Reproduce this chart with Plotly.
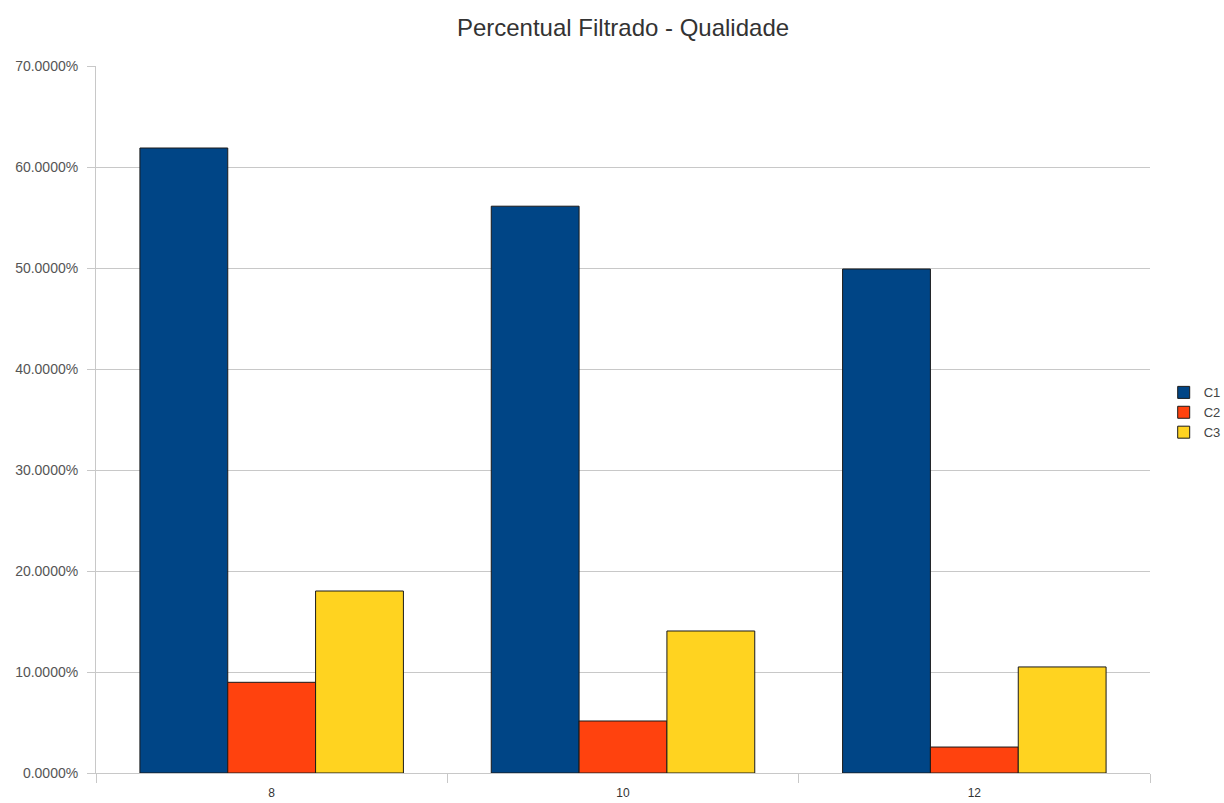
import plotly.graph_objects as go

categories = ["8", "10", "12"]
c1_values = [0.6188, 0.5612, 0.4990]
c2_values = [0.0898, 0.0515, 0.0257]
c3_values = [0.1802, 0.1406, 0.1050]
series_names = ["C1", "C2", "C3"]
series_colors = ["#004586", "#ff420e", "#ffd320"]

fig = go.Figure()
for name, vals, color in zip(series_names, [c1_values, c2_values, c3_values], series_colors):
    fig.add_trace(go.Bar(
        x=categories, y=vals, name=name,
        marker=dict(color=color, line=dict(color="#1a1a1a", width=1)),
    ))

grid = "#c8c8c8"
fig.update_layout(
    width=1224, height=803,
    margin=dict(l=96, r=74, t=66, b=30, autoexpand=False),
    paper_bgcolor="white", plot_bgcolor="white",
    barmode="group", bargap=0.25, bargroupgap=0,
    font=dict(family="Liberation Sans, Arial, sans-serif", size=12, color="#444444"),
    title=dict(text="Percentual Filtrado - Qualidade", x=0.5, xref="paper",
               y=0.966, yanchor="middle",
               font=dict(size=24, color="#333333")),
    legend=dict(x=1.013, y=0.51, xanchor="left", yanchor="middle",
                font=dict(size=13, color="#444444"), tracegroupgap=0,
                itemwidth=30),
    xaxis=dict(
        type="category", showgrid=False, showline=True, linecolor=grid,
        ticks="outside", tickson="boundaries", ticklen=9, tickcolor=grid,
        ticklabelstandoff=9,
        tickfont=dict(size=12, color="#333333"),
    ),
    yaxis=dict(
        range=[0, 0.70], dtick=0.10, tickformat=".4%",
        showgrid=True, gridcolor=grid, showline=True, linecolor=grid,
        ticks="outside", ticklen=8, tickcolor=grid, zeroline=False,
        ticklabelstandoff=6,
        tickfont=dict(size=14, color="#555555"),
    ),
)

fig.write_html("out.html")
